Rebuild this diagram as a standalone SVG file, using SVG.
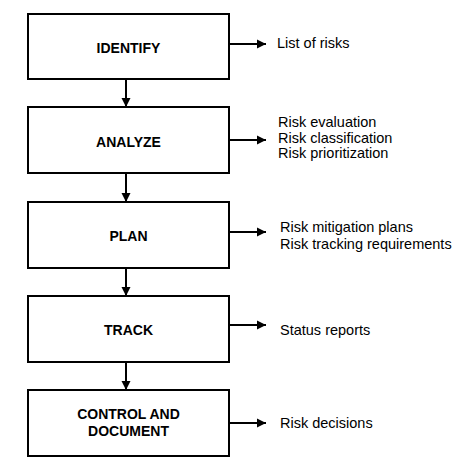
<svg xmlns="http://www.w3.org/2000/svg" width="462" height="470" viewBox="0 0 462 470">
<style>
.box{fill:#fff;stroke:#000;stroke-width:2}
.lbl{font-family:"Liberation Sans",Arial,sans-serif;font-size:14px;font-weight:bold;text-anchor:middle;fill:#000}
.out{font-family:"Liberation Sans",Arial,sans-serif;font-size:14.5px;fill:#000}
.con{stroke:#000;stroke-width:2;fill:none;marker-end:url(#ah)}
</style>
<defs>
<marker id="ah" markerUnits="userSpaceOnUse" markerWidth="10" markerHeight="10" refX="9" refY="5" orient="auto">
<path d="M0,0.5 L9,5 L0,9.5 z" fill="#000"/>
</marker>
</defs>
<rect width="462" height="470" fill="#fff"/>
<g id="identify"><rect class="box" x="28" y="14" width="201" height="65"/><text class="lbl" x="128.5" y="53">IDENTIFY</text></g>
<g id="analyze"><rect class="box" x="28" y="107" width="201" height="66"/><text class="lbl" x="128.5" y="147">ANALYZE</text></g>
<g id="plan"><rect class="box" x="28" y="202" width="201" height="66"/><text class="lbl" x="128.5" y="241">PLAN</text></g>
<g id="track"><rect class="box" x="28" y="296" width="201" height="66"/><text class="lbl" x="128.5" y="335">TRACK</text></g>
<g id="control"><rect class="box" x="28" y="390" width="201" height="66"/><text class="lbl" x="128.5" y="419">CONTROL AND</text><text class="lbl" x="128.5" y="436">DOCUMENT</text></g>
<g id="outputs">
<text class="out" x="277" y="48">List of risks</text>
<text class="out" x="278" y="127">Risk evaluation</text>
<text class="out" x="278" y="142.5">Risk classification</text>
<text class="out" x="278" y="158">Risk prioritization</text>
<text class="out" x="280" y="232">Risk mitigation plans</text>
<text class="out" x="280" y="249">Risk tracking requirements</text>
<text class="out" x="280" y="335">Status reports</text>
<text class="out" x="280" y="428">Risk decisions</text>
</g>
<g id="connectors">
<line class="con" x1="126" y1="80" x2="126" y2="107"/>
<line class="con" x1="126" y1="174" x2="126" y2="202"/>
<line class="con" x1="126" y1="269" x2="126" y2="296"/>
<line class="con" x1="126" y1="363" x2="126" y2="390"/>
<line class="con" x1="230" y1="44" x2="266" y2="44"/>
<line class="con" x1="230" y1="140" x2="266" y2="140"/>
<line class="con" x1="230" y1="232" x2="266" y2="232"/>
<line class="con" x1="230" y1="325" x2="266" y2="325"/>
<line class="con" x1="230" y1="423" x2="266" y2="423"/>
</g>
</svg>
